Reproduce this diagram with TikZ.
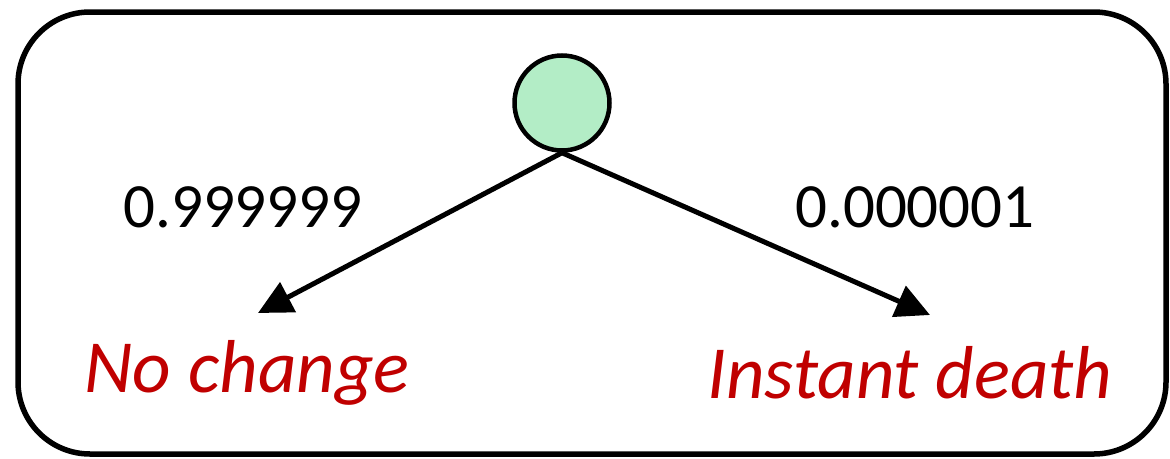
\documentclass[tikz,border=0pt]{standalone}
\usepackage{fontspec}
\setmainfont{Carlito}
\usetikzlibrary{arrows.meta}
\definecolor{nodegreen}{HTML}{B3EDC6}
\definecolor{outred}{HTML}{C00000}
\begin{document}
\begin{tikzpicture}[x=1pt,y=-1pt,
  frame/.style={draw=black,line width=5.5pt,rounded corners=72pt},
  state/.style={circle,draw=black,line width=4.5pt,fill=nodegreen,minimum size=95pt,inner sep=0pt},
  prob/.style={font=\fontsize{63}{70}\selectfont,inner sep=0pt},
  outcome/.style={font=\fontsize{75}{85}\selectfont\itshape,text=outred,inner sep=0pt},
  edge/.style={line width=5pt,-{Triangle[length=34pt,width=33pt]}}]
\useasboundingbox (0,0) rectangle (1170,458);
\draw[frame] (18,12) rectangle (1166,454);
\node[state] (s) at (562,103) {};
\coordinate (l) at (258,313);
\coordinate (r) at (930,315);
\draw[edge] (s.south) -- (l);
\draw[edge] (s.south) -- (r);
\node[prob] (p1) at (243,207) {0.999999};
\node[prob] (p2) at (915,207) {0.000001};
\node[outcome] (o1) at (247,373) {No change};
\node[outcome] (o2) at (910,373) {Instant death};
\end{tikzpicture}
\end{document}
